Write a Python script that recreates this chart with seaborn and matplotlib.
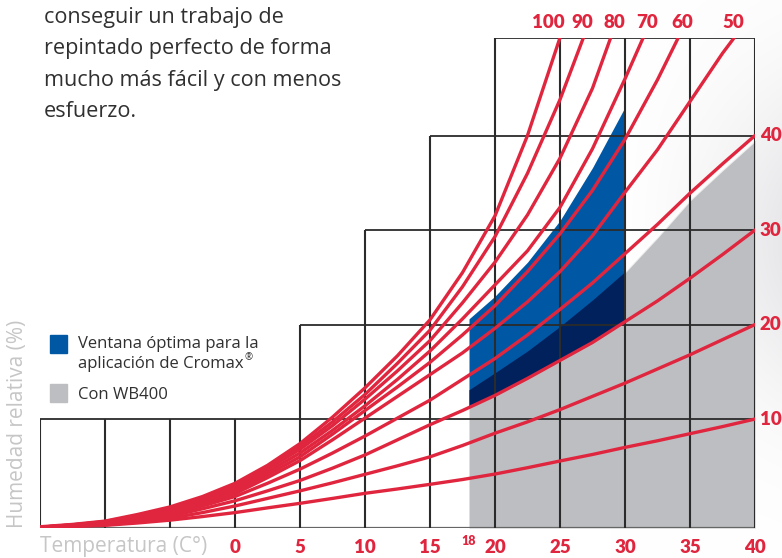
import numpy as np
import pandas as pd
import matplotlib.pyplot as plt
from matplotlib.patches import Rectangle
import seaborn as sns

temps = [-15, -12.5, -10, -7.5, -5, -2.5, 0, 2.5, 5, 7.5, 10, 12.5, 15, 17.5, 20,
         22.5, 25, 27.5, 30, 32.5, 35, 37.5, 40]

# humidity curves in chart units (grid rows at 10/20/30/40, top edge ~50)
rh_100 = [-1.4, -1.15, -0.8, -0.1, 0.7, 1.8, 3.2, 5.1, 7.4, 10.2, 13.3, 16.7, 20.5,
          25.5, 31.5, 40.0]
rh_90 = [-1.45, -1.2, -0.85, -0.2, 0.6, 1.7, 3.0, 4.9, 7.1, 9.7, 12.6, 15.9, 19.4,
         24.0, 29.3, 36.0, 43.8]
rh_80 = [-1.45, -1.2, -0.9, -0.25, 0.5, 1.55, 2.8, 4.7, 6.8, 9.3, 12.1, 15.1, 18.3,
         22.3, 26.6, 31.6, 37.6, 45.0]
rh_70 = [-1.45, -1.22, -0.95, -0.3, 0.4, 1.4, 2.6, 4.4, 6.4, 8.8, 11.4, 14.2, 17.2,
         20.6, 24.2, 27.8, 32.4, 38.6, 46.0]
rh_60 = [-1.45, -1.25, -1.0, -0.4, 0.3, 1.3, 2.4, 4.1, 6.0, 8.4, 10.9, 13.4, 16.0,
         18.9, 22.0, 25.6, 29.6, 34.2, 39.6, 45.9]
rh_50 = [-1.45, -1.27, -1.05, -0.5, 0.1, 1.05, 2.1, 3.8, 5.6, 7.8, 10.1, 12.4, 14.7,
         17.0, 19.6, 22.4, 25.6, 29.4, 34.0, 38.5, 43.6, 48.7]
rh_40 = [-1.45, -1.3, -1.1, -0.65, -0.1, 0.8, 1.8, 3.2, 4.7, 6.4, 8.2, 10.1, 12.0,
         14.2, 16.4, 18.9, 21.6, 24.4, 27.5, 30.6, 33.9, 37.0, 40.0]
rh_30 = [-1.45, -1.32, -1.15, -0.75, -0.3, 0.5, 1.35, 2.4, 3.5, 4.8, 6.2, 7.8, 9.4,
         10.9, 12.5, 14.3, 16.2, 18.1, 20.3, 22.5, 24.9, 27.4, 30.0]
rh_20 = [-1.45, -1.34, -1.2, -0.9, -0.5, 0.1, 0.8, 1.6, 2.4, 3.25, 4.15, 5.05, 6.0,
         7.2, 8.5, 9.7, 11.0, 12.4, 13.8, 15.3, 16.8, 18.4, 20.0]
rh_10 = [-1.45, -1.36, -1.25, -1.0, -0.7, -0.32, 0.1, 0.6, 1.08, 1.6, 2.14, 2.6, 3.09,
         3.6, 4.18, 4.85, 5.56, 6.25, 7.0, 7.7, 8.45, 9.2, 10.0]

rh_levels = [100, 90, 80, 70, 60, 50, 40, 30, 20, 10]
# where the upper curves leave the chart through the top edge
top_exit = [25.0, 26.8, 28.9, 31.4, 34.1, 38.4]

# shaded zones
zone_t = [18, 20, 22.5, 25, 27.5, 30]
window_low = [11.3, 12.5, 14.3, 16.2, 18.1, 20.3]
window_high = [20.6, 23.0, 26.6, 31.0, 36.6, 43.0]
wb_t = [18, 20, 22.5, 25, 27.5, 30, 32.5, 35, 37.5, 40]
wb_high = [13.1, 14.9, 17.2, 19.8, 22.6, 25.6, 29.3, 33.2, 36.4, 39.5]

x_ticks = [0, 5, 10, 15, 20, 25, 30, 35, 40]
y_ticks = [10, 20, 30, 40]

RED = '#e0263e'
BLUE = '#0058a5'
NAVY = '#00215c'
GREY = '#bdbec2'
GRID = '#2b2b2b'
TXT = '#303030'
Y_BOT, Y_TOP = -1.53, 50.35

sns.set_style('white')
plt.rcParams['font.family'] = ['Open Sans', 'DejaVu Sans']
num_family = ['Lato', 'DejaVu Sans']

W, H = 782, 558
fig = plt.figure(figsize=(W / 100, H / 100), dpi=100)

# soft grey haze on the right of the page
bg = fig.add_axes([0, 0, 1, 1], zorder=-5)
gx, gy = np.meshgrid(np.arange(W), np.arange(H))
shade = np.clip((gx - 610) / 172, 0, 1) ** 1.5 * np.exp(-((gy - 240) / 160) ** 2) * 0.09
bg.imshow(1 - np.dstack([shade, shade, shade * 0.9]), aspect='auto', interpolation='bilinear')
bg.set_axis_off()

ax = fig.add_axes([40 / W, 1 - 528 / H, 715 / W, 490.3 / H])
ax.patch.set_alpha(0)
ax.set_xlim(-15, 40)
ax.set_ylim(Y_BOT, Y_TOP)
for s in ax.spines.values():
    s.set_visible(False)

# zones
ax.fill_between(wb_t, Y_BOT, wb_high, color=GREY, lw=0, zorder=1)
ax.fill_between(zone_t, window_low, window_high, color=BLUE, lw=0, zorder=1.1)
ax.fill_between(zone_t, window_low, wb_high[:len(zone_t)], color=NAVY, lw=0, zorder=1.2)
ax.plot(wb_t[5:], wb_high[5:], color='white', lw=2.5, alpha=0.7, zorder=1.3,
        solid_capstyle='butt')

# staircase grid
row_start = {10: -15, 20: 5, 30: 10, 40: 15, Y_TOP: 20}
for yv, x0 in row_start.items():
    ax.hlines(yv, x0, 40, color=GRID, lw=1.3, zorder=2)
ax.hlines(Y_BOT, -15, 40, color='#666666', lw=1.6, zorder=2)
col_top = {5: 20, 10: 30, 15: 40}
for xv in range(-15, 41, 5):
    top = col_top.get(xv, 10 if xv < 5 else Y_TOP)
    ax.vlines(xv, Y_BOT, top, color=GRID, lw=1.5, zorder=2)

# curves
series = [rh_100, rh_90, rh_80, rh_70, rh_60, rh_50, rh_40, rh_30, rh_20, rh_10]
rows = []
for i, (lvl, vals) in enumerate(zip(rh_levels, series)):
    tt = list(temps[:len(vals)])
    vv = list(vals)
    if i < len(top_exit):
        tt.append(top_exit[i])
        vv.append(Y_TOP)
    for t, v in zip(tt, vv):
        rows.append({'T': t, 'v': v, 'rh': lvl})
curves = pd.DataFrame(rows)
sns.lineplot(data=curves, x='T', y='v', units='rh', estimator=None, sort=False,
             color=RED, lw=2.4, ax=ax, zorder=3, legend=False)
ax.set_xlabel('')
ax.set_ylabel('')

# curve labels
lab_font = dict(color=RED, fontweight='heavy', fontsize=13.5, family=num_family)
top_dx = [-12, -1, 4, 4, 4, -1]
for lvl, tx, dx in zip(rh_levels, top_exit, top_dx):
    ax.annotate(str(lvl), (tx, Y_TOP), xytext=(dx * 0.72, 15 * 0.72),
                textcoords='offset points', ha='center', va='center',
                annotation_clip=False, **lab_font)
for yv in y_ticks:
    ax.annotate(str(yv), (40, yv), xytext=(5 * 0.72, 0), textcoords='offset points',
                ha='left', va='center', annotation_clip=False, **lab_font)

ax.set_xticks(x_ticks)
ax.set_xticklabels([str(t) for t in x_ticks])
ax.set_yticks([])
ax.tick_params(axis='x', length=0, pad=8, labelsize=13.5, labelcolor=RED)
for lab in ax.get_xticklabels():
    lab.set_fontweight('heavy')
    lab.set_family(num_family)
ax.annotate('18', (18, Y_BOT), xytext=(0, -13 * 0.72), textcoords='offset points',
            ha='center', va='center', annotation_clip=False,
            color=RED, fontweight='heavy', fontsize=9, family=num_family)

# axis titles
fig.text(40 / W, 1 - 552 / H, 'Temperatura (C°)', color='#c6c6c6', fontsize=15,
         ha='left', va='baseline')
fig.text(18 / W, 1 - 528 / H, 'Humedad relativa (%)', color='#c6c6c6', fontsize=15,
         rotation=90, ha='center', va='bottom')

# intro text
intro = ['conseguir un trabajo de', 'repintado perfecto de forma',
         'mucho más fácil y con menos', 'esfuerzo.']
for k, line in enumerate(intro):
    fig.text(44 / W, 1 - (23 + 31.3 * k) / H, line, color=TXT, fontsize=15.6,
             ha='left', va='baseline')

# legend
fig.add_artist(Rectangle((50 / W, 1 - 353 / H), 17 / W, 18 / H, color=BLUE,
                         transform=fig.transFigure))
fig.add_artist(Rectangle((50 / W, 1 - 402 / H), 17 / W, 18 / H, color=GREY,
                         transform=fig.transFigure))
fig.text(78 / W, 1 - 348 / H, 'Ventana óptima para la', color=TXT, fontsize=12,
         va='baseline')
crom = fig.text(78 / W, 1 - 368 / H, 'aplicación de Cromax', color=TXT, fontsize=12,
                va='baseline')
fig.text(78 / W, 1 - 399 / H, 'Con WB400', color=TXT, fontsize=12, va='baseline')
fig.canvas.draw()
bb = crom.get_window_extent()
fig.text((bb.x1 + 1) / W, 1 - 360 / H, '®', color=TXT, fontsize=7, va='baseline')

fig.savefig('out.png', dpi=100)
